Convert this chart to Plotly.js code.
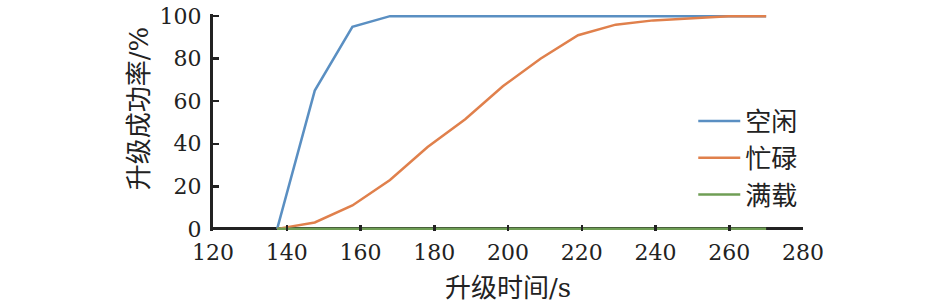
<!DOCTYPE html>
<html>
<head>
<meta charset="utf-8">
<script src="https://cdn.plot.ly/plotly-3.0.1.min.js"></script>
<style>
html,body{margin:0;padding:0;background:#fff;}
#chart{width:945px;height:308px;}
</style>
</head>
<body>
<div id="chart"></div>
<script>
// Upgrade time (s)
const upgradeTime = [137.4, 147.6, 157.8, 168, 178.2, 188.4, 198.6, 208.8, 219, 229.2, 239.4, 249.6, 259.8, 270];
// Success rate (%) per load state
const idleRate  = [0, 65, 95, 100, 100, 100, 100, 100, 100, 100, 100, 100, 100, 100];
const busyRate  = [0, 3, 11, 23, 38.5, 51.5, 67, 80, 91, 96, 98, 99, 100, 100];
const fullRate  = [0, 0, 0, 0, 0, 0, 0, 0, 0, 0, 0, 0, 0, 0];
const seriesNames = ['空闲', '忙碌', '满载'];
const xTicks = [120, 140, 160, 180, 200, 220, 240, 260, 280];
const yTicks = [0, 20, 40, 60, 80, 100];
const xTitle = '升级时间/s';
const yTitle = '升级成功率/%';

const FONT = 'DejaVu Serif, Noto Sans CJK SC';
const colors = ['#5a8fc2', '#e0804c', '#6f9e55'];
const ys = [idleRate, busyRate, fullRate];

const traces = ys.map((y, i) => ({
  x: upgradeTime, y: y, type: 'scatter', mode: 'lines', name: seriesNames[i],
  line: {color: colors[i], width: 2.5}
}));

const layout = {
  width: 945, height: 308,
  margin: {l: 213, r: 142, t: 14, b: 77},
  paper_bgcolor: '#fff', plot_bgcolor: '#fff',
  font: {family: FONT, size: 26, color: '#222'},
  showlegend: true,
  legend: {
    x: 0.814, xanchor: 'left', y: 0.615, yanchor: 'top',
    bgcolor: 'rgba(0,0,0,0)', borderwidth: 0,
    font: {family: FONT, size: 26, color: '#222'},
    itemwidth: 42, tracegroupgap: 0
  },
  xaxis: {
    range: [120, 280], tickvals: xTicks, ticktext: xTicks.map(String),
    showgrid: false, zeroline: false, showline: false,
    ticks: 'inside', ticklen: 6, tickwidth: 2.5, tickcolor: '#222',
    tickfont: {family: FONT, size: 22, color: '#222'},
    ticklabelstandoff: 6
  },
  yaxis: {
    range: [-1, 101], tickvals: yTicks, ticktext: yTicks.map(String),
    showgrid: false, zeroline: true, zerolinecolor: '#222', zerolinewidth: 3,
    showline: true, linecolor: '#222', linewidth: 3,
    ticks: 'inside', ticklen: 6, tickwidth: 2.5, tickcolor: '#222',
    tickfont: {family: FONT, size: 22, color: '#222'},
    ticklabelstandoff: 4
  },
  annotations: [
    {text: xTitle, xref: 'paper', yref: 'paper', x: 0.5, y: -0.262,
     xanchor: 'center', yanchor: 'middle', showarrow: false,
     font: {family: FONT, size: 26, color: '#222'}},
    {text: yTitle, xref: 'paper', yref: 'paper', x: -0.124, y: 0.565,
     xanchor: 'center', yanchor: 'middle', showarrow: false, textangle: -90,
     font: {family: FONT, size: 26, color: '#222'}}
  ]
};

Plotly.newPlot('chart', traces, layout, {staticPlot: true, displayModeBar: false});
</script>
</body>
</html>
